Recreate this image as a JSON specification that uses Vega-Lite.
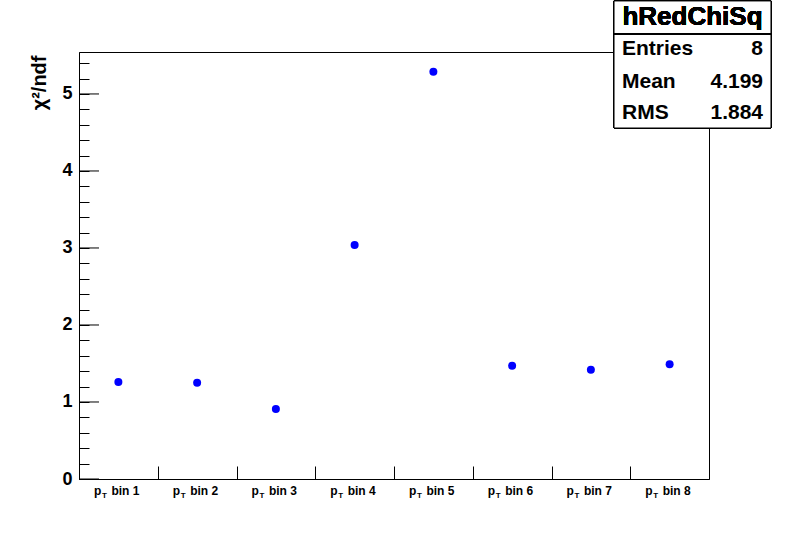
{
  "$schema": "https://vega.github.io/schema/vega-lite/v6.json",
  "width": 630,
  "height": 427,
  "autosize": "none",
  "padding": {"left": 79, "top": 52, "right": 79, "bottom": 54},
  "background": "white",
  "config": {"view": {"stroke": "black", "strokeWidth": 1}, "font": "Liberation Sans"},
  "data": {"values": [
    {"bin": 1, "label": "bin 1", "chi2": 1.26},
    {"bin": 2, "label": "bin 2", "chi2": 1.25},
    {"bin": 3, "label": "bin 3", "chi2": 0.91},
    {"bin": 4, "label": "bin 4", "chi2": 3.04},
    {"bin": 5, "label": "bin 5", "chi2": 5.29},
    {"bin": 6, "label": "bin 6", "chi2": 1.47},
    {"bin": 7, "label": "bin 7", "chi2": 1.42},
    {"bin": 8, "label": "bin 8", "chi2": 1.49}
  ]},
  "layer": [
    {
      "mark": {"type": "circle", "color": "#0000ff", "opacity": 1, "size": 64},
      "encoding": {
        "x": {"field": "bin", "type": "quantitative",
          "scale": {"domain": [0.5, 8.5], "nice": false, "zero": false},
          "axis": {"values": [1.5, 2.5, 3.5, 4.5, 5.5, 6.5, 7.5], "tickCount": 20, "tickSize": -13, "labels": false, "title": null,
            "domainColor": "black", "tickColor": "black", "grid": false}},
        "y": {"field": "chi2", "type": "quantitative",
          "scale": {"domain": [0, 5.545], "nice": false, "zero": false},
          "axis": {
            "values": [0, 0.2, 0.4, 0.6, 0.8, 1, 1.2, 1.4, 1.6, 1.8, 2, 2.2, 2.4, 2.6, 2.8, 3, 3.2, 3.4, 3.6, 3.8, 4, 4.2, 4.4, 4.6, 4.8, 5, 5.2, 5.4],
            "tickCount": 40,
            "labelExpr": "abs(datum.value - round(datum.value)) < 0.01 ? format(datum.value, 'd') : ''",
            "tickSize": -10,
            "tickColor": "black", "domainColor": "black", "grid": false,
            "labelFont": "Liberation Sans", "labelFontWeight": "bold", "labelFontSize": 18, "labelColor": "black",
            "labelPadding": 17, "labelOverlap": false, "labelFlush": false, "labelBound": false,
            "title": "χ²/ndf", "titleFont": "Liberation Sans", "titleFontSize": 20, "titleFontWeight": "bold",
            "titleColor": "black", "titleAnchor": "end", "titlePadding": 12, "titleY": 3
          }
        }
      }
    },
    {
      "data": {"values": [{"major": 0}, {"major": 1}, {"major": 2}, {"major": 3}, {"major": 4}, {"major": 5}]},
      "mark": {"type": "rule", "color": "black", "strokeWidth": 1},
      "encoding": {
        "x": {"datum": 0.5, "type": "quantitative"},
        "x2": {"datum": 0.754},
        "y": {"field": "major", "type": "quantitative"}
      }
    },
    {
      "mark": {"type": "text", "align": "left", "baseline": "alphabetic", "dx": -7, "dy": 16, "fontSize": 12, "fontWeight": "bold", "font": "Liberation Sans", "color": "black"},
      "encoding": {"x": {"field": "bin", "type": "quantitative"}, "y": {"datum": 0, "type": "quantitative"}, "text": {"field": "label"}}
    },
    {
      "mark": {"type": "text", "align": "right", "baseline": "alphabetic", "dx": -17, "dy": 16, "fontSize": 12, "fontWeight": "bold", "font": "Liberation Sans", "color": "black"},
      "encoding": {"x": {"field": "bin", "type": "quantitative"}, "y": {"datum": 0, "type": "quantitative"}, "text": {"value": "p"}}
    },
    {
      "mark": {"type": "text", "align": "center", "baseline": "alphabetic", "dx": -14, "dy": 18.5, "fontSize": 8, "fontWeight": "bold", "font": "Liberation Sans", "color": "black"},
      "encoding": {"x": {"field": "bin", "type": "quantitative"}, "y": {"datum": 0, "type": "quantitative"}, "text": {"value": "T"}}
    },
    {
      "mark": {"type": "rect", "fill": "white", "stroke": "black", "strokeWidth": 1, "clip": false},
      "encoding": {
        "x": {"datum": 7.294, "type": "quantitative"},
        "x2": {"datum": 9.287},
        "y": {"datum": 6.208, "type": "quantitative"},
        "y2": {"datum": 4.558}
      }
    },
    {
      "mark": {"type": "rule", "color": "black", "strokeWidth": 1, "clip": false},
      "encoding": {
        "x": {"datum": 7.294, "type": "quantitative"},
        "x2": {"datum": 9.287},
        "y": {"datum": 5.779, "type": "quantitative"}
      }
    },
    {
      "mark": {"type": "text", "align": "center", "baseline": "middle", "fontSize": 26, "fontWeight": "bold", "font": "Liberation Sans", "color": "black"},
      "encoding": {
        "x": {"datum": 8.29, "type": "quantitative"},
        "y": {"datum": 6.0, "type": "quantitative"},
        "text": {"value": "hRedChiSq"}
      }
    },
    {
      "data": {"values": [
        {"key": "Entries", "val": "8", "row": 5.584},
        {"key": "Mean", "val": "4.199", "row": 5.156},
        {"key": "RMS", "val": "1.884", "row": 4.753}
      ]},
      "layer": [
        {
          "mark": {"type": "text", "align": "left", "baseline": "middle", "fontSize": 21, "fontWeight": "bold", "font": "Liberation Sans", "color": "black"},
          "encoding": {
            "x": {"datum": 7.395, "type": "quantitative"},
            "y": {"field": "row", "type": "quantitative"},
            "text": {"field": "key"}
          }
        },
        {
          "mark": {"type": "text", "align": "right", "baseline": "middle", "fontSize": 21, "fontWeight": "bold", "font": "Liberation Sans", "color": "black"},
          "encoding": {
            "x": {"datum": 9.186, "type": "quantitative"},
            "y": {"field": "row", "type": "quantitative"},
            "text": {"field": "val"}
          }
        }
      ]
    }
  ]
}
